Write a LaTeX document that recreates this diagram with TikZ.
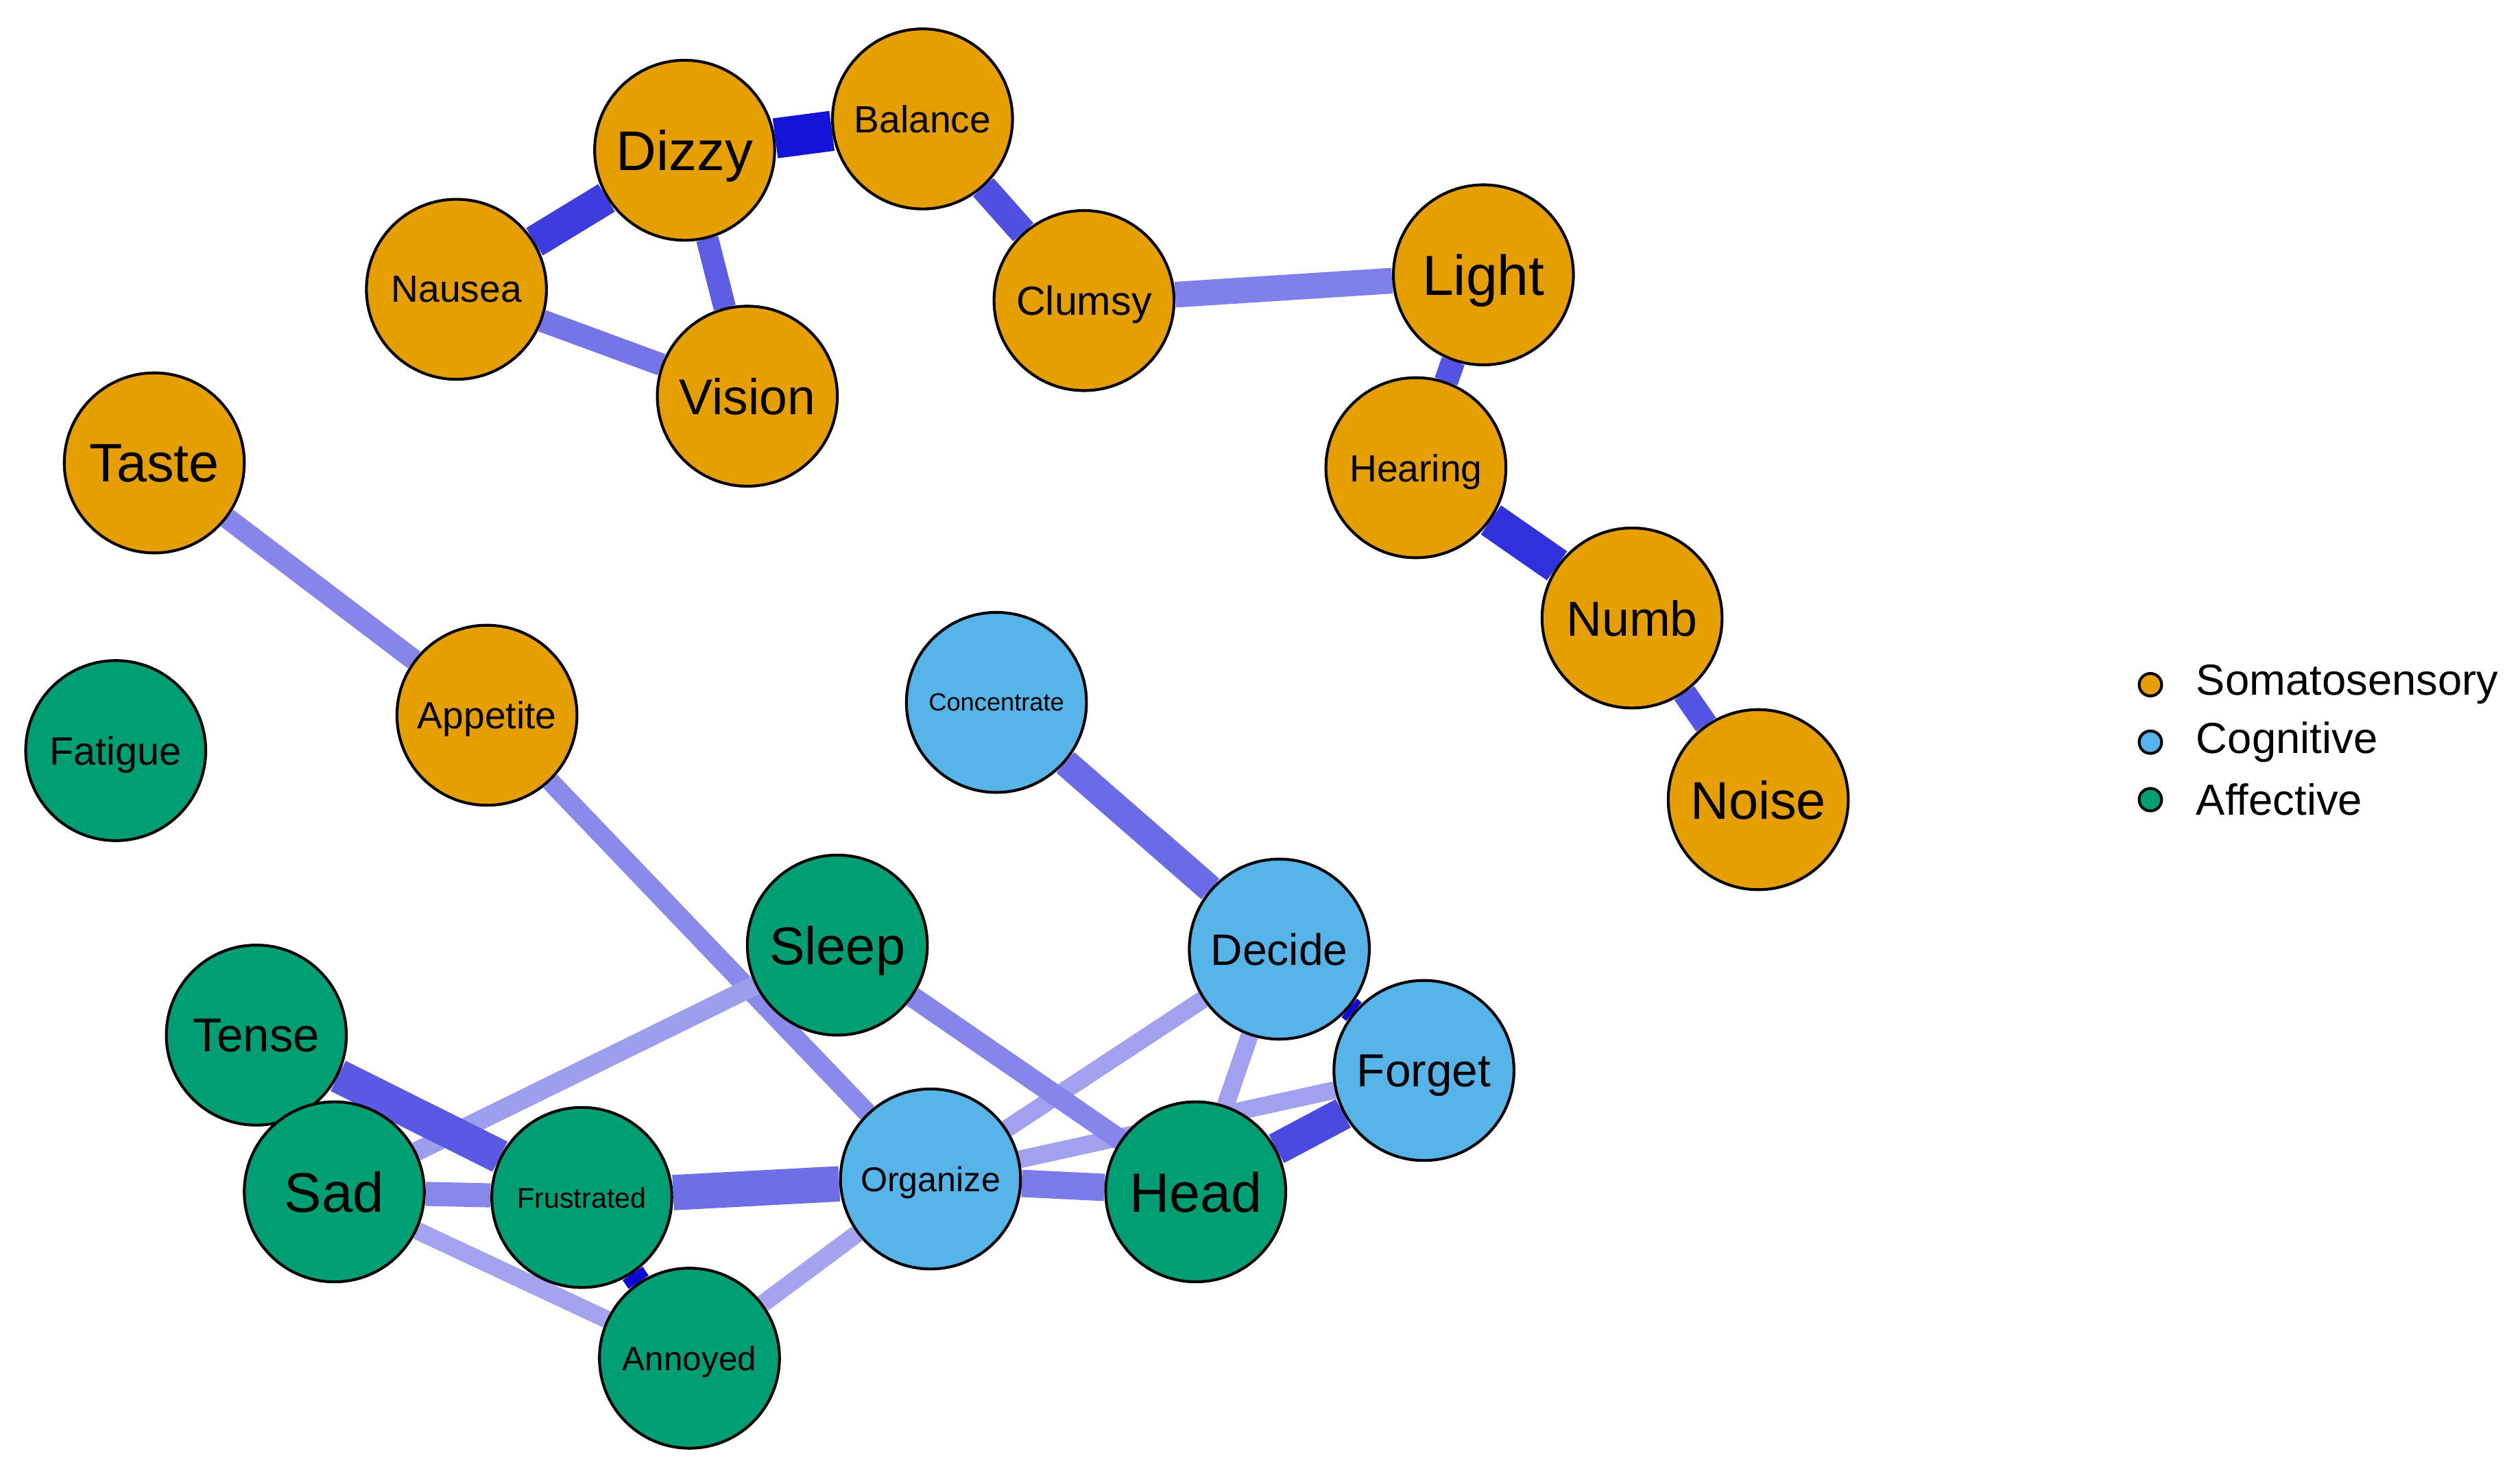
\documentclass[tikz,border=0pt]{standalone}
\usepackage{fontspec}
\setmainfont{Liberation Sans}
\usetikzlibrary{positioning}
\definecolor{somaorange}{HTML}{E69F00}
\definecolor{cogblue}{HTML}{56B4E9}
\definecolor{affgreen}{HTML}{009E73}
\definecolor{edgeblue}{HTML}{0000D5}
\pgfdeclarelayer{background}
\pgfsetlayers{background,main}

\begin{document}
\begin{tikzpicture}[
  sym/.style={circle, draw=black, line width=0.5pt, minimum size=1.12cm, inner sep=0pt, text depth=0pt},
  soma/.style={sym, fill=somaorange},
  cogn/.style={sym, fill=cogblue},
  affe/.style={sym, fill=affgreen},
  fs/.style={font=\fontsize{#1}{#1}\selectfont},
  legdot/.style={circle, draw=black, line width=0.5pt, minimum size=0.14cm, inner sep=0pt},
  legtext/.style={font=\fontsize{7.7}{8}\selectfont, inner sep=0pt}]
\useasboundingbox (0,0) rectangle (15.68,-9.22);
% somatosensory
\node[soma, fs=9.9] (dizzy) at (4.26,-0.935) {Dizzy};
\node[soma, fs=6.7] (balance) at (5.74,-0.74) {Balance};
\node[soma, fs=6.7] (nausea) at (2.84,-1.80) {Nausea};
\node[soma, fs=8.9] (vision) at (4.65,-2.465) {Vision};
\node[soma, fs=7.2] (clumsy) at (6.745,-1.87) {Clumsy};
\node[soma, fs=10] (light) at (9.23,-1.71) {Light};
\node[soma, fs=6.7] (hearing) at (8.81,-2.91) {Hearing};
\node[soma, fs=8.7] (numb) at (10.155,-3.845) {Numb};
\node[soma, fs=9.4] (noise) at (10.94,-4.975) {Noise};
\node[soma, fs=9.6] (taste) at (0.96,-2.88) {Taste};
\node[soma, fs=6.7] (appetite) at (3.03,-4.45) {Appetite};
% cognitive
\node[cogn, fs=4.4] (concentrate) at (6.20,-4.37) {Concentrate};
\node[cogn, fs=7.8] (decide) at (7.96,-5.905) {Decide};
\node[cogn, fs=8.2] (forget) at (8.86,-6.66) {Forget};
\node[cogn, fs=6.1] (organize) at (5.79,-7.335) {Organize};
% affective
\node[affe, fs=7.0] (fatigue) at (0.72,-4.67) {Fatigue};
\node[affe, fs=9.4] (sleep) at (5.21,-5.88) {Sleep};
\node[affe, fs=8.4] (tense) at (1.595,-6.44) {Tense};
\node[affe, fs=9.9] (sad) at (2.08,-7.415) {Sad};
\node[affe, fs=5.0] (frustrated) at (3.62,-7.45) {Frustrated};
\node[affe, fs=9.8] (head) at (7.44,-7.415) {Head};
\node[affe, fs=6.0] (annoyed) at (4.29,-8.45) {Annoyed};
\begin{pgfonlayer}{background}
\foreach \x/\y/\w/\s in {dizzy/balance/0.25/92, dizzy/nausea/0.20/76, dizzy/vision/0.14/64,
    nausea/vision/0.14/54, balance/clumsy/0.17/69, clumsy/light/0.16/50,
    light/hearing/0.15/67, hearing/numb/0.22/81, numb/noise/0.15/67,
    taste/appetite/0.13/48, appetite/organize/0.12/46, concentrate/decide/0.17/58,
    decide/forget/0.15/95, decide/head/0.11/37, decide/organize/0.11/37,
    forget/organize/0.11/37, forget/head/0.20/71, sleep/head/0.13/48,
    sleep/sad/0.12/38, tense/frustrated/0.21/65, sad/frustrated/0.15/47,
    frustrated/organize/0.22/57, organize/head/0.17/52, sad/annoyed/0.11/36,
    frustrated/annoyed/0.15/96, annoyed/organize/0.11/36}
  \draw[line width=\w cm, edgeblue!\s!white] (\x) -- (\y);
\end{pgfonlayer}
% legend
\node[legdot, fill=somaorange] (lsoma) at (13.38,-4.26) {};
\node[legdot, fill=cogblue, below=0.2cm of lsoma] (lcogn) {};
\node[legdot, fill=affgreen, below=0.2cm of lcogn] (laffe) {};
\node[legtext, right=0.2cm of lsoma] {Somatosensory};
\node[legtext, right=0.2cm of lcogn] {Cognitive};
\node[legtext, right=0.2cm of laffe] {Affective};
\end{tikzpicture}
\end{document}
